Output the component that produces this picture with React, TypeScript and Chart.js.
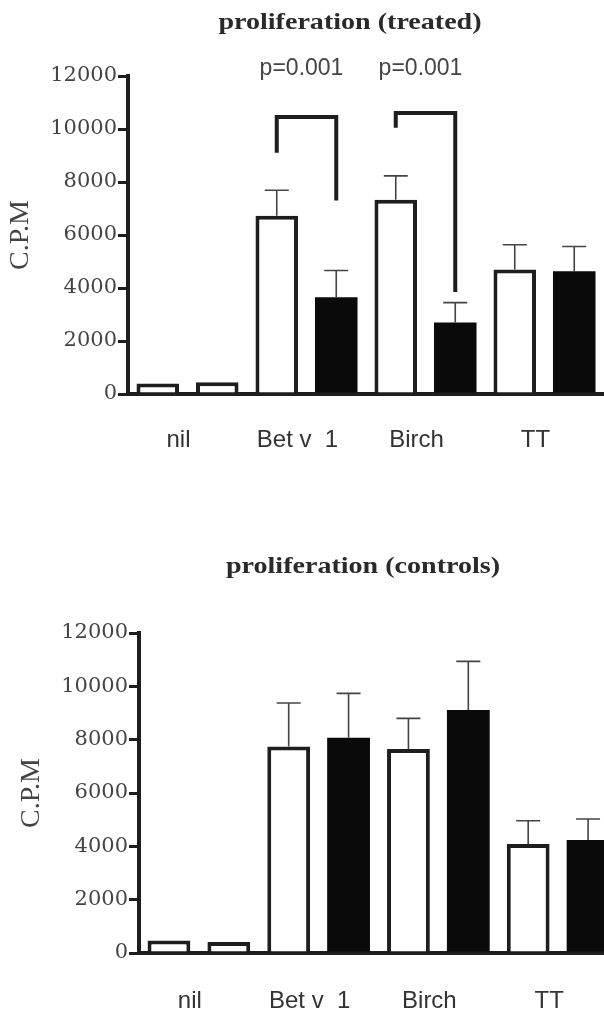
import React, { useEffect, useRef } from 'react';
import { Chart, registerables } from 'chart.js';

Chart.register(...registerables);

// ---------- data ----------
const categories = ['nil', 'Bet v  1', 'Birch', 'TT'];
const yMin = 0;
const yMax = 12000;
const yStep = 2000;
const yAxisTitle = 'C.P.M';

const treatedTitle = 'proliferation (treated)';
const treatedFirst = [400, 6730, 7330, 4700];
const treatedSecond = [440, 3650, 2700, 4630];
const treatedFirstErr = [0, 960, 900, 930];
const treatedSecondErr = [0, 1010, 750, 935];

const controlsTitle = 'proliferation (controls)';
const controlsFirst = [470, 7740, 7650, 4090];
const controlsSecond = [410, 8070, 9110, 4240];
const controlsFirstErr = [0, 1635, 1150, 870];
const controlsSecondErr = [0, 1665, 1825, 785];

const secondFill = ['#ffffff', '#0a0a0a', '#0a0a0a', '#0a0a0a'];
const secondBorderWidth = [4, 0, 0, 0];

// significance brackets (treated panel)
const bracketCategory = [1, 2];
const bracketLeftEnd = [9100, 10050];
const bracketTop = [10450, 10600];
const bracketRightEnd = [7300, 3850];
const bracketLabel = ['p=0.001', 'p=0.001'];

// ---------- styles ----------
const INK = '#1e1e1e';
const TEXT = '#444444';

type PanelProps = {
  top: number;
  width: number;
  height: number;
  areaTop: number;
  axisWidth: number;
  xAxisHeight: number;
  xLabelPad: number;
  yTitlePad: number;
  title: string;
  titleX: number;
  titleBaseline: number;
  first: number[];
  second: number[];
  firstErr: number[];
  secondErr: number[];
  brackets: boolean;
};

function Panel(p: PanelProps) {
  const ref = useRef<HTMLCanvasElement | null>(null);
  useEffect(() => {
    const canvas = ref.current;
    if (!canvas) return;

    const errorBars = {
      id: 'errorBars',
      afterDatasetsDraw(chart: any) {
        const ctx = chart.ctx;
        const y = chart.scales.y;
        const errs = [p.firstErr, p.secondErr];
        const vals = [p.first, p.second];
        ctx.save();
        ctx.strokeStyle = '#444';
        ctx.lineWidth = 1.6;
        for (let d = 0; d < 2; d++) {
          const meta = chart.getDatasetMeta(d);
          meta.data.forEach((bar: any, i: number) => {
            const e = errs[d][i];
            if (!e) return;
            const y0 = y.getPixelForValue(vals[d][i]);
            const y1 = y.getPixelForValue(vals[d][i] + e);
            ctx.beginPath();
            ctx.moveTo(bar.x, y0);
            ctx.lineTo(bar.x, y1);
            ctx.moveTo(bar.x - 12, y1);
            ctx.lineTo(bar.x + 12, y1);
            ctx.stroke();
          });
        }
        ctx.restore();
      },
    };

    const decorations = {
      id: 'decorations',
      afterDraw(chart: any) {
        const ctx = chart.ctx;
        const y = chart.scales.y;
        ctx.save();
        // title (stretched serif bold)
        ctx.fillStyle = '#2a2a2a';
        ctx.font = 'bold 23px "Liberation Serif"';
        ctx.textAlign = 'center';
        ctx.textBaseline = 'alphabetic';
        ctx.save();
        ctx.translate(p.titleX, p.titleBaseline);
        ctx.scale(1.22, 1);
        ctx.fillText(p.title, 0, 0);
        ctx.restore();

        if (p.brackets) {
          const m0 = chart.getDatasetMeta(0);
          const m1 = chart.getDatasetMeta(1);
          ctx.strokeStyle = INK;
          ctx.lineWidth = 4;
          ctx.lineJoin = 'miter';
          ctx.lineCap = 'butt';
          bracketCategory.forEach((c, k) => {
            const xL = m0.data[c].x;
            const xR = m1.data[c].x;
            const yL = y.getPixelForValue(bracketLeftEnd[k]);
            const yT = y.getPixelForValue(bracketTop[k]);
            const yR = y.getPixelForValue(bracketRightEnd[k]);
            ctx.beginPath();
            ctx.moveTo(xL, yL);
            ctx.lineTo(xL, yT);
            ctx.lineTo(xR, yT);
            ctx.lineTo(xR, yR);
            ctx.stroke();
            ctx.fillStyle = TEXT;
            ctx.font = '23px "Liberation Sans"';
            ctx.textAlign = 'center';
            ctx.textBaseline = 'alphabetic';
            ctx.fillText(bracketLabel[k], (xL + xR) / 2 - 5, y.getPixelForValue(yMax) - 1);
          });
        }
        ctx.restore();
      },
    };

    const chart = new Chart(canvas, {
      type: 'bar',
      data: {
        labels: categories,
        datasets: [
          {
            data: p.first,
            backgroundColor: '#ffffff',
            borderColor: INK,
            borderWidth: 4,
            categoryPercentage: 1,
            barPercentage: 0.715,
          },
          {
            data: p.second,
            backgroundColor: secondFill,
            borderColor: INK,
            borderWidth: secondBorderWidth,
            categoryPercentage: 1,
            barPercentage: 0.715,
          },
        ],
      },
      options: {
        responsive: false,
        animation: false,
        devicePixelRatio: 1,
        layout: { padding: { top: p.areaTop, left: 0, right: 0, bottom: 0 } },
        plugins: {
          legend: { display: false },
          tooltip: { enabled: false },
          title: { display: false },
        },
        scales: {
          x: {
            grid: { display: false, drawTicks: false },
            border: { display: true, width: 4, color: INK },
            ticks: {
              font: { family: 'Liberation Sans', size: 24 },
              color: '#333',
              padding: p.xLabelPad,
              labelOffset: -9,
              maxRotation: 0,
              autoSkip: false,
            },
            afterFit: (s: any) => {
              s.height = p.xAxisHeight;
            },
          },
          y: {
            min: yMin,
            max: yMax,
            ticks: {
              stepSize: yStep,
              font: { family: 'DejaVu Serif', size: 21 },
              color: TEXT,
              padding: 1,
              callback: (v: any) => String(v),
            },
            grid: {
              drawOnChartArea: false,
              drawTicks: true,
              tickLength: 10,
              lineWidth: 3,
              color: INK,
            },
            border: { display: true, width: 4, color: INK },
            title: {
              display: true,
              text: yAxisTitle,
              font: { family: 'Liberation Serif', size: 28 },
              color: TEXT,
              padding: { top: p.yTitlePad, bottom: 0 },
            },
            afterFit: (s: any) => {
              s.width = p.axisWidth;
            },
          },
        },
      },
      plugins: [errorBars, decorations],
    });
    return () => chart.destroy();
  }, []);

  return (
    <canvas
      ref={ref}
      width={p.width}
      height={p.height}
      style={{ position: 'absolute', left: 0, top: p.top, width: p.width, height: p.height }}
    />
  );
}

export default function App() {
  return (
    <div
      style={{
        position: 'absolute',
        left: 0,
        top: 0,
        width: 604,
        height: 1017,
        overflow: 'hidden',
        background: '#ffffff',
      }}
    >
      <Panel
        top={0}
        width={604}
        height={470}
        areaTop={76}
        axisWidth={128}
        xAxisHeight={76}
        xLabelPad={32}
        yTitlePad={4}
        title={treatedTitle}
        titleX={350}
        titleBaseline={29}
        first={treatedFirst}
        second={treatedSecond}
        firstErr={treatedFirstErr}
        secondErr={treatedSecondErr}
        brackets={true}
      />
      <Panel
        top={500}
        width={618}
        height={517}
        areaTop={133}
        axisWidth={139}
        xAxisHeight={64}
        xLabelPad={34}
        yTitlePad={15}
        title={controlsTitle}
        titleX={363}
        titleBaseline={73}
        first={controlsFirst}
        second={controlsSecond}
        firstErr={controlsFirstErr}
        secondErr={controlsSecondErr}
        brackets={false}
      />
    </div>
  );
}
